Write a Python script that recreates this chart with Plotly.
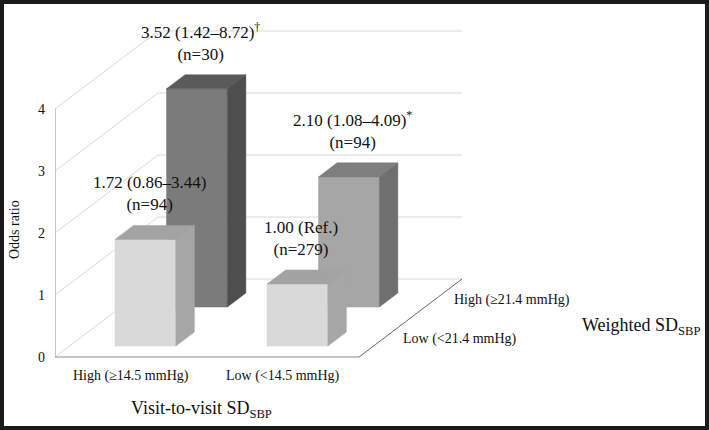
import plotly.graph_objects as go

# ---------------- data ----------------
visit_categories = ["High (≥14.5 mmHg)", "Low (<14.5 mmHg)"]
weighted_series = ["Low (<21.4 mmHg)", "High (≥21.4 mmHg)"]
odds_low_weighted = [1.72, 1.00]
odds_high_weighted = [3.52, 2.10]
labels_low_weighted = ["1.72 (0.86–3.44)<br>(n=94)", "1.00 (Ref.)<br>(n=279)"]
labels_high_weighted = ["3.52 (1.42–8.72)<sup>†</sup><br>(n=30)",
                        "2.10 (1.08–4.09)<sup>*</sup><br>(n=94)"]
y_ticks = [0, 1, 2, 3, 4]

# ---------------- style / geometry ----------------
FONT = "Liberation Serif"
PX_X = 152.0      # pixels per category unit
PX_Y = 62.0       # pixels per odds-ratio unit
DX = 103.0 / PX_X  # depth shift of whole floor (x units)
DY = 78.0 / PX_Y   # depth shift of whole floor (y units)
HALF_W = 0.2
ROW_Z = [0.14, 0.64]   # front face depth of each series row
BAR_D = 0.18
# colours: (front, top, side) per [row][col]
COLORS = [
    [("#d9d9d9", "#a3a3a3", "#a6a6a6"), ("#d9d9d9", "#a3a3a3", "#a6a6a6")],
    [("#7b7b7b", "#5a5a5a", "#4e4e4e"), ("#a6a6a6", "#7e7e7e", "#6f6f6f")],
]
GRID = "#d9d9d9"
AXIS = "#8c8c8c"
TXT = "#111111"


def P(x, v, z):
    return x + z * DX, v + z * DY


fig = go.Figure()

def poly(pts, color):
    xs = [p[0] for p in pts] + [pts[0][0]]
    ys = [p[1] for p in pts] + [pts[0][1]]
    fig.add_trace(go.Scatter(x=xs, y=ys, mode="lines", fill="toself",
                             fillcolor=color, line=dict(color=color, width=0.5),
                             hoverinfo="skip", showlegend=False))

def line(pts, color, width=1):
    fig.add_trace(go.Scatter(x=[p[0] for p in pts], y=[p[1] for p in pts],
                             mode="lines", line=dict(color=color, width=width),
                             hoverinfo="skip", showlegend=False))

ncat = len(visit_categories)
# gridlines: left wall diagonals + back wall horizontals
for t in y_ticks:
    line([P(0, t, 0), P(0, t, 1), P(ncat, t, 1)], GRID)
# axis lines
line([P(0, 0, 0), P(0, max(y_ticks), 0)], AXIS)
line([P(0, 0, 0), P(ncat, 0, 0)], AXIS)
line([P(ncat, 0, 0), P(ncat, 0, 1)], "#6a6a6a")

rows = [odds_low_weighted, odds_high_weighted]
row_labels = [labels_low_weighted, labels_high_weighted]
annotations = []
# draw back row first
for j in [1, 0]:
    z0 = ROW_Z[j]
    z1 = z0 + BAR_D
    for i, v in enumerate(rows[j]):
        c = i + 0.5
        xl, xr = c - HALF_W, c + HALF_W
        fc, tc, sc = COLORS[j][i]
        poly([P(xl, 0, z0), P(xr, 0, z0), P(xr, v, z0), P(xl, v, z0)], fc)
        poly([P(xl, v, z0), P(xr, v, z0), P(xr, v, z1), P(xl, v, z1)], tc)
        poly([P(xr, 0, z0), P(xr, 0, z1), P(xr, v, z1), P(xr, v, z0)], sc)
        ax, _ = P(c, v, z0)
        _, ay = P(c, v, z1)
        annotations.append(dict(x=ax, y=ay, xref="x", yref="y", text=row_labels[j][i],
                                showarrow=False, xanchor="center", yanchor="bottom",
                                xshift=4, yshift=9,
                                font=dict(family=FONT, size=17, color=TXT)))

# category labels
for i, cat in enumerate(visit_categories):
    annotations.append(dict(x=i + 0.5, y=0, xref="x", yref="y", text=cat, showarrow=False,
                            xanchor="center", yanchor="middle", yshift=-19,
                            font=dict(family=FONT, size=14, color=TXT)))
# series labels
for j, s in enumerate(weighted_series):
    zc = ROW_Z[j] + BAR_D / 2
    sx, sy = P(ncat, 0, zc)
    annotations.append(dict(x=sx, y=sy, xref="x", yref="y", text=s, showarrow=False,
                            xanchor="left", yanchor="middle", xshift=18,
                            font=dict(family=FONT, size=14, color=TXT)))

W, H, L = 709, 430, 55
plot_w = W - L
annotations.append(dict(x=(201 - L) / PX_X, y=0, xref="x", yref="y",
                        text="Visit-to-visit SD<sub>SBP</sub>", showarrow=False,
                        xanchor="center", yanchor="middle", yshift=-52,
                        font=dict(family=FONT, size=18, color=TXT)))
annotations.append(dict(x=(580 - L) / PX_X, y=(357 - 326) / PX_Y, xref="x", yref="y",
                        text="Weighted SD<sub>SBP</sub>", showarrow=False,
                        xanchor="left", yanchor="middle",
                        font=dict(family=FONT, size=18, color=TXT)))
annotations.append(dict(x=(15 - L) / plot_w, y=1 - 230 / H, xref="paper", yref="paper",
                        text="Odds ratio", textangle=-90, showarrow=False,
                        xanchor="center", yanchor="middle",
                        font=dict(family=FONT, size=14, color=TXT)))

fig.update_layout(
    width=W, height=H,
    margin=dict(l=L, r=0, t=0, b=0),
    paper_bgcolor="white", plot_bgcolor="white",
    font=dict(family=FONT, color=TXT),
    annotations=annotations,
    xaxis=dict(range=[0, plot_w / PX_X], visible=False, fixedrange=True),
    yaxis=dict(range=[(357 - H) / PX_Y, 357 / PX_Y], tickvals=y_ticks,
               ticktext=[str(t) for t in y_ticks], showgrid=False, zeroline=False,
               showline=False, ticks="", ticklabelstandoff=9,
               tickfont=dict(family=FONT, size=14, color=TXT), fixedrange=True),
    shapes=[dict(type="rect", xref="paper", yref="paper",
                 x0=(2 - L) / plot_w, x1=(W - 2 - L) / plot_w,
                 y0=1 - (H - 2) / H, y1=1 - 2 / H,
                 line=dict(color="#1a1a1a", width=4), layer="above")],
    showlegend=False,
)

fig.write_html("out.html",
               config={"displayModeBar": False},
               post_script="document.body.style.margin='0px';"
                           "document.body.style.overflow='hidden';")
